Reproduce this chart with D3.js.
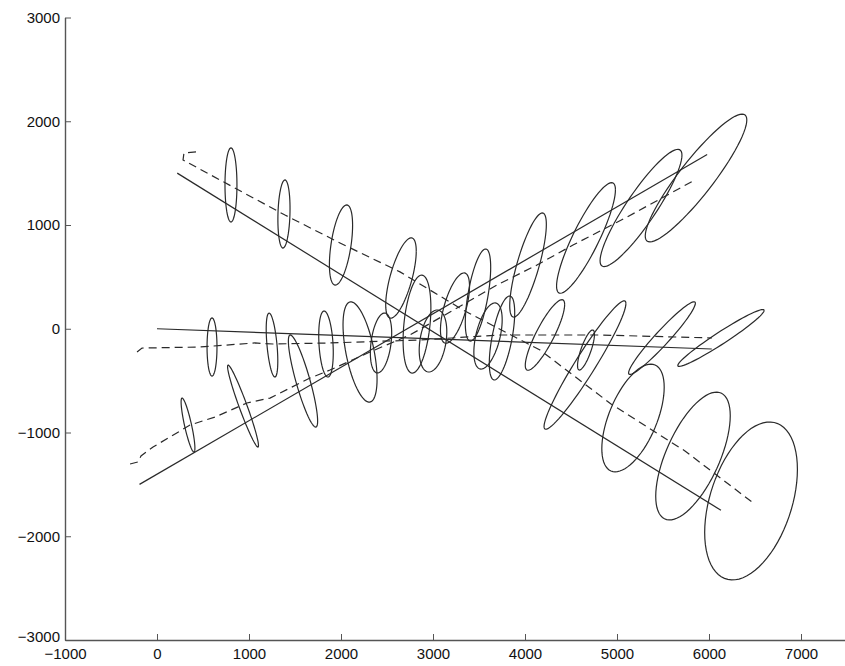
<!DOCTYPE html>
<html>
<head>
<meta charset="utf-8">
<script src="https://cdn.jsdelivr.net/npm/d3@7"></script>
<style>
  body { margin: 0; background: #fff; }
  svg { display: block; }
</style>
</head>
<body>
<div id="chart"></div>
<script>
// Tick values
const xTicks = [-1000, 0, 1000, 2000, 3000, 4000, 5000, 6000, 7000]
const yTicks = [-3000, -2000, -1000, 0, 1000, 2000, 3000]

// True target paths (solid)
const trueA = [[220, 1500], [6130, -1750]]
const trueB = [[-190, -1500], [5980, 1680]]
const trueC = [[0, 0], [6030, -195]]

// Estimated tracks (dashed)
const estA = [[424, 1704], [293, 1694], [283, 1627], [826, 1366], [1391, 1096], [1989, 827],
  [2641, 548], [3326, 181], [4163, -205], [4935, -725], [5739, -1178], [6467, -1670]]
const estB = [[-293, -1304], [-207, -1284], [-174, -1226], [-43, -1140], [359, -928], [630, -851],
  [978, -716], [1228, -668], [1663, -475], [1880, -398], [2315, -224], [2750, -60], [3185, 162],
  [3696, 422], [4130, 614], [4522, 807], [5109, 1077], [5826, 1424]]
const estC = [[-217, -224], [-163, -186], [467, -176], [1065, -137], [1261, -147], [1880, -137],
  [2859, -108], [3728, -60], [4815, -60], [6033, -89]]

// Covariance ellipses: [cx, cy, sigmaX, sigmaY, rho]
const ellA = [[804, 1386, 65, 357, 0], [1380, 1106, 66, 328, 0.16], [2000, 807, 126, 386, 0.49],
  [2652, 489, 166, 387, 0.67], [3239, 199, 158, 339, 0.62], [3750, -89, 138, 405, 0.6],
  [4652, -350, 445, 619, 0.957], [5174, -860, 339, 519, 0.57], [5826, -1227, 405, 616, 0.63],
  [6457, -1660, 504, 761, 0.4]]
const ellB = [[337, -928, 75, 260, -0.855], [935, -745, 168, 395, -0.962], [1587, -504, 159, 444, -0.868],
  [2207, -224, 185, 483, -0.54], [2826, 45, 151, 472, 0.335], [3489, 325, 138, 444, 0.6],
  [4033, 614, 199, 502, 0.78], [4663, 875, 320, 533, 0.87], [5261, 1164, 445, 565, 0.9],
  [5859, 1453, 552, 616, 0.908]]
const ellC = [[598, -176, 54, 280, 0], [1250, -157, 63, 308, -0.5], [1837, -147, 79, 318, -0.26],
  [2435, -137, 116, 289, 0.33], [3000, -118, 150, 299, 0.3], [3598, -70, 154, 319, 0.49],
  [4217, -60, 214, 340, 0.86], [4663, -205, 92, 193, 0.78], [5489, -90, 363, 350, 0.959],
  [6130, -89, 469, 274, 0.968]]

const width = 845, height = 666

const x = d3.scaleLinear().domain([-1000, 7500]).range([65, 847])
const y = d3.scaleLinear().domain([-3000, 3000]).range([640, 17.5])

const svg = d3.select('#chart')
  .append('svg')
  .attr('width', width)
  .attr('height', height)

const line = d3.line().x(d => x(d[0])).y(d => y(d[1]))

// ellipse outline from mean + covariance (cholesky)
let ellipsePts = e => {
  const [cx, cy, sx, sy, r] = e
  const k = Math.sqrt(1 - r * r)
  return d3.range(0, 73).map(i => {
    const t = i / 72 * 2 * Math.PI
    return [cx + sx * Math.cos(t), cy + sy * (r * Math.cos(t) + k * Math.sin(t))]
  })
}

const ink = '#2a2a2a'

;[ellA, ellB, ellC].forEach(set => {
  svg.append('g').selectAll('path')
    .data(set)
    .enter()
    .append('path')
    .attr('d', d => line(ellipsePts(d)))
    .attr('fill', 'none')
    .attr('stroke', ink)
    .attr('stroke-width', 1.2)
})

;[trueA, trueB, trueC].forEach(p => {
  svg.append('path').attr('d', line(p))
    .attr('fill', 'none').attr('stroke', ink).attr('stroke-width', 1.2)
})

;[estA, estB, estC].forEach(p => {
  svg.append('path').attr('d', line(p))
    .attr('fill', 'none').attr('stroke', ink).attr('stroke-width', 1.2)
    .attr('stroke-dasharray', '8,5')
})

// axes, matlab style (ticks pointing in)
const font = '"Liberation Sans", Arial, sans-serif'
const fmt = d3.format('d')

const gy = svg.append('g')
  .attr('transform', `translate(${x(-1000)},0)`)
  .call(d3.axisLeft(y).tickValues(yTicks).tickFormat(fmt).tickSizeInner(-6).tickSizeOuter(0).tickPadding(5))
const gx = svg.append('g')
  .attr('transform', `translate(0,${y(-3000)})`)
  .call(d3.axisBottom(x).tickValues(xTicks).tickFormat(fmt).tickSizeInner(-6).tickSizeOuter(0).tickPadding(8))

;[gx, gy].forEach(g => {
  g.select('.domain').attr('stroke', '#555').attr('stroke-width', 1.4)
  g.selectAll('.tick line').attr('stroke', '#555')
  g.selectAll('.tick text').attr('fill', '#111')
    .style('font-family', font).style('font-size', '15px')
})
// -3000 label sits a bit above the corner in the original
gy.selectAll('.tick text').filter(d => d === -3000).attr('dy', '0.1em')
</script>
</body>
</html>
